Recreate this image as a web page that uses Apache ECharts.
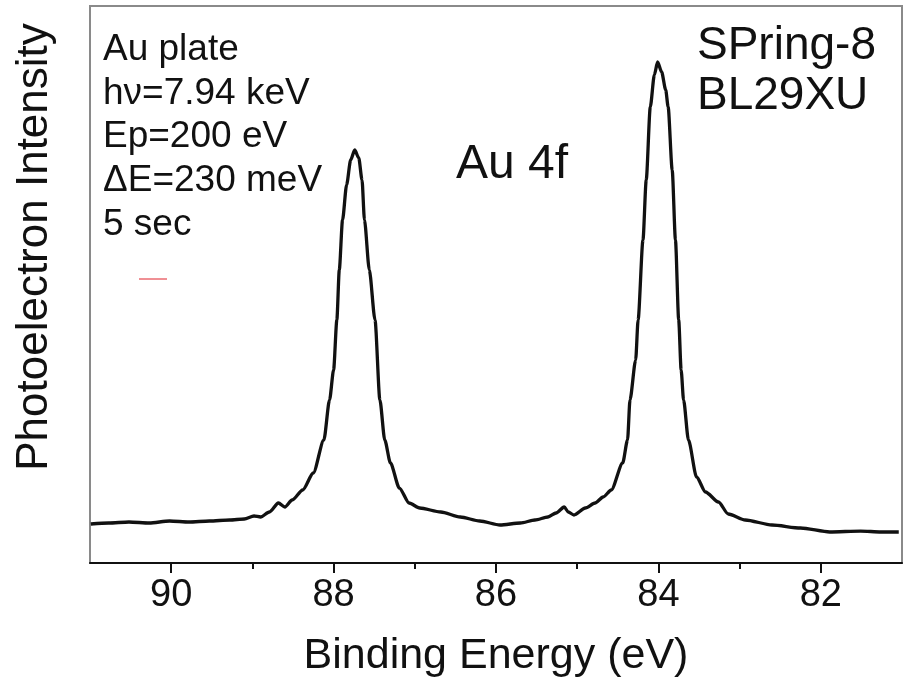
<!DOCTYPE html>
<html>
<head>
<meta charset="utf-8">
<script src="https://cdn.jsdelivr.net/npm/echarts@6/dist/echarts.min.js"></script>
<style>
html,body{margin:0;padding:0;background:#fff;}
#chart{width:913px;height:691px;}
</style>
</head>
<body>
<div id="chart"></div>
<script>
// Binding energy (eV) and photoelectron intensity (arb. units)
const bindingEnergy = [90.99,90.77,90.52,90.27,90.02,89.78,89.53,89.28,89.10,88.98,88.90,88.79,88.68,88.60,88.51,88.38,88.25,88.12,88.05,88.00,87.96,87.93,87.89,87.84,87.79,87.74,87.69,87.65,87.62,87.56,87.49,87.43,87.37,87.30,87.19,87.07,86.94,86.68,86.44,86.20,85.95,85.70,85.52,85.36,85.26,85.16,85.11,85.04,84.90,84.78,84.68,84.58,84.44,84.38,84.35,84.28,84.25,84.19,84.15,84.10,84.05,84.01,83.96,83.91,83.88,83.83,83.79,83.75,83.72,83.69,83.63,83.53,83.42,83.26,83.14,82.93,82.60,82.25,81.89,81.51,81.26,81.04];
const intensity = [70.0,71.8,73.6,71.8,75.4,73.6,75.4,77.2,79.0,84.4,82.6,91.6,107.7,100.5,113.1,131.1,161.6,220.8,292.6,346.5,436.3,526.0,615.8,678.6,723.5,741.5,727.1,687.6,615.8,526.0,436.3,292.6,220.8,179.5,134.6,107.7,98.7,91.6,82.6,75.4,68.2,71.8,77.2,82.6,89.8,100.5,91.6,86.2,98.7,107.7,118.5,131.1,179.5,220.8,292.6,364.4,436.3,579.9,687.6,818.7,876.1,899.5,881.5,849.2,818.7,705.5,579.9,436.3,346.5,292.6,220.8,154.4,127.5,109.5,88.0,77.2,68.2,62.8,55.7,57.4,55.7,55.7];
const majorTicks = [90, 88, 86, 84, 82];
const minorTicks = [89, 87, 85, 83];
const infoLines = ['Au plate', 'h\u03BD=7.94 keV', 'Ep=200 eV', '\u0394E=230 meV', '5 sec'];
const facilityLines = ['SPring-8', 'BL29XU'];
const peakLabel = 'Au 4f';
const xTitle = 'Binding Energy (eV)';
const yTitle = 'Photoelectron Intensity';

const FONT = '"Liberation Sans", Arial, Helvetica, sans-serif';
const chart = echarts.init(document.getElementById('chart'), null, {renderer: 'canvas'});
const seriesData = bindingEnergy.map((e, i) => [e, intensity[i]]);

chart.setOption({
  animation: false,
  backgroundColor: '#fff',
  grid: {left: 90, right: 11, top: 6, bottom: 128, show: true, borderColor: '#8a8a8a', borderWidth: 2, backgroundColor: 'transparent'},
  xAxis: [{
    type: 'value', min: 81, max: 91, inverse: true,
    name: xTitle, nameLocation: 'middle', nameGap: 72,
    nameTextStyle: {fontFamily: FONT, fontSize: 43, color: '#111'},
    axisLine: {show: true, lineStyle: {color: '#111', width: 2}},
    axisTick: {show: true, customValues: majorTicks, length: 10, lineStyle: {color: '#111', width: 2}},
    axisLabel: {show: true, customValues: majorTicks, margin: 14, fontFamily: FONT, fontSize: 38, color: '#111'},
    splitLine: {show: false}
  }, {
    type: 'value', min: 81, max: 91, inverse: true, position: 'bottom',
    axisLine: {show: false},
    axisTick: {show: true, customValues: minorTicks, length: 6, lineStyle: {color: '#111', width: 2}},
    axisLabel: {show: false},
    splitLine: {show: false}
  }],
  yAxis: {type: 'value', min: 0, max: 1000, show: false},
  series: [{
    type: 'line', data: seriesData, xAxisIndex: 0, showSymbol: false, symbol: 'none',
    smooth: 0.25, smoothMonotone: 'x',
    lineStyle: {color: '#111', width: 3.3}
  }],
  graphic: [
    {type: 'text', left: 103, top: 28, style: {text: infoLines.join('\n'), font: '37px ' + FONT, fill: '#111', lineHeight: 43.7}},
    {type: 'text', left: 697, top: 21, style: {text: facilityLines.join('\n'), font: '46px ' + FONT, fill: '#111', lineHeight: 50}},
    {type: 'text', x: 456, y: 165, style: {text: peakLabel, font: '48px ' + FONT, fill: '#111', textVerticalAlign: 'middle'}},
    {type: 'text', x: 35, y: 247, rotation: Math.PI / 2, style: {text: yTitle, font: '44px ' + FONT, fill: '#111', textAlign: 'center', textVerticalAlign: 'middle'}},
    {type: 'line', shape: {x1: 139, y1: 279, x2: 167, y2: 279}, style: {stroke: '#e0202a', lineWidth: 1}}
  ]
});
</script>
</body>
</html>
